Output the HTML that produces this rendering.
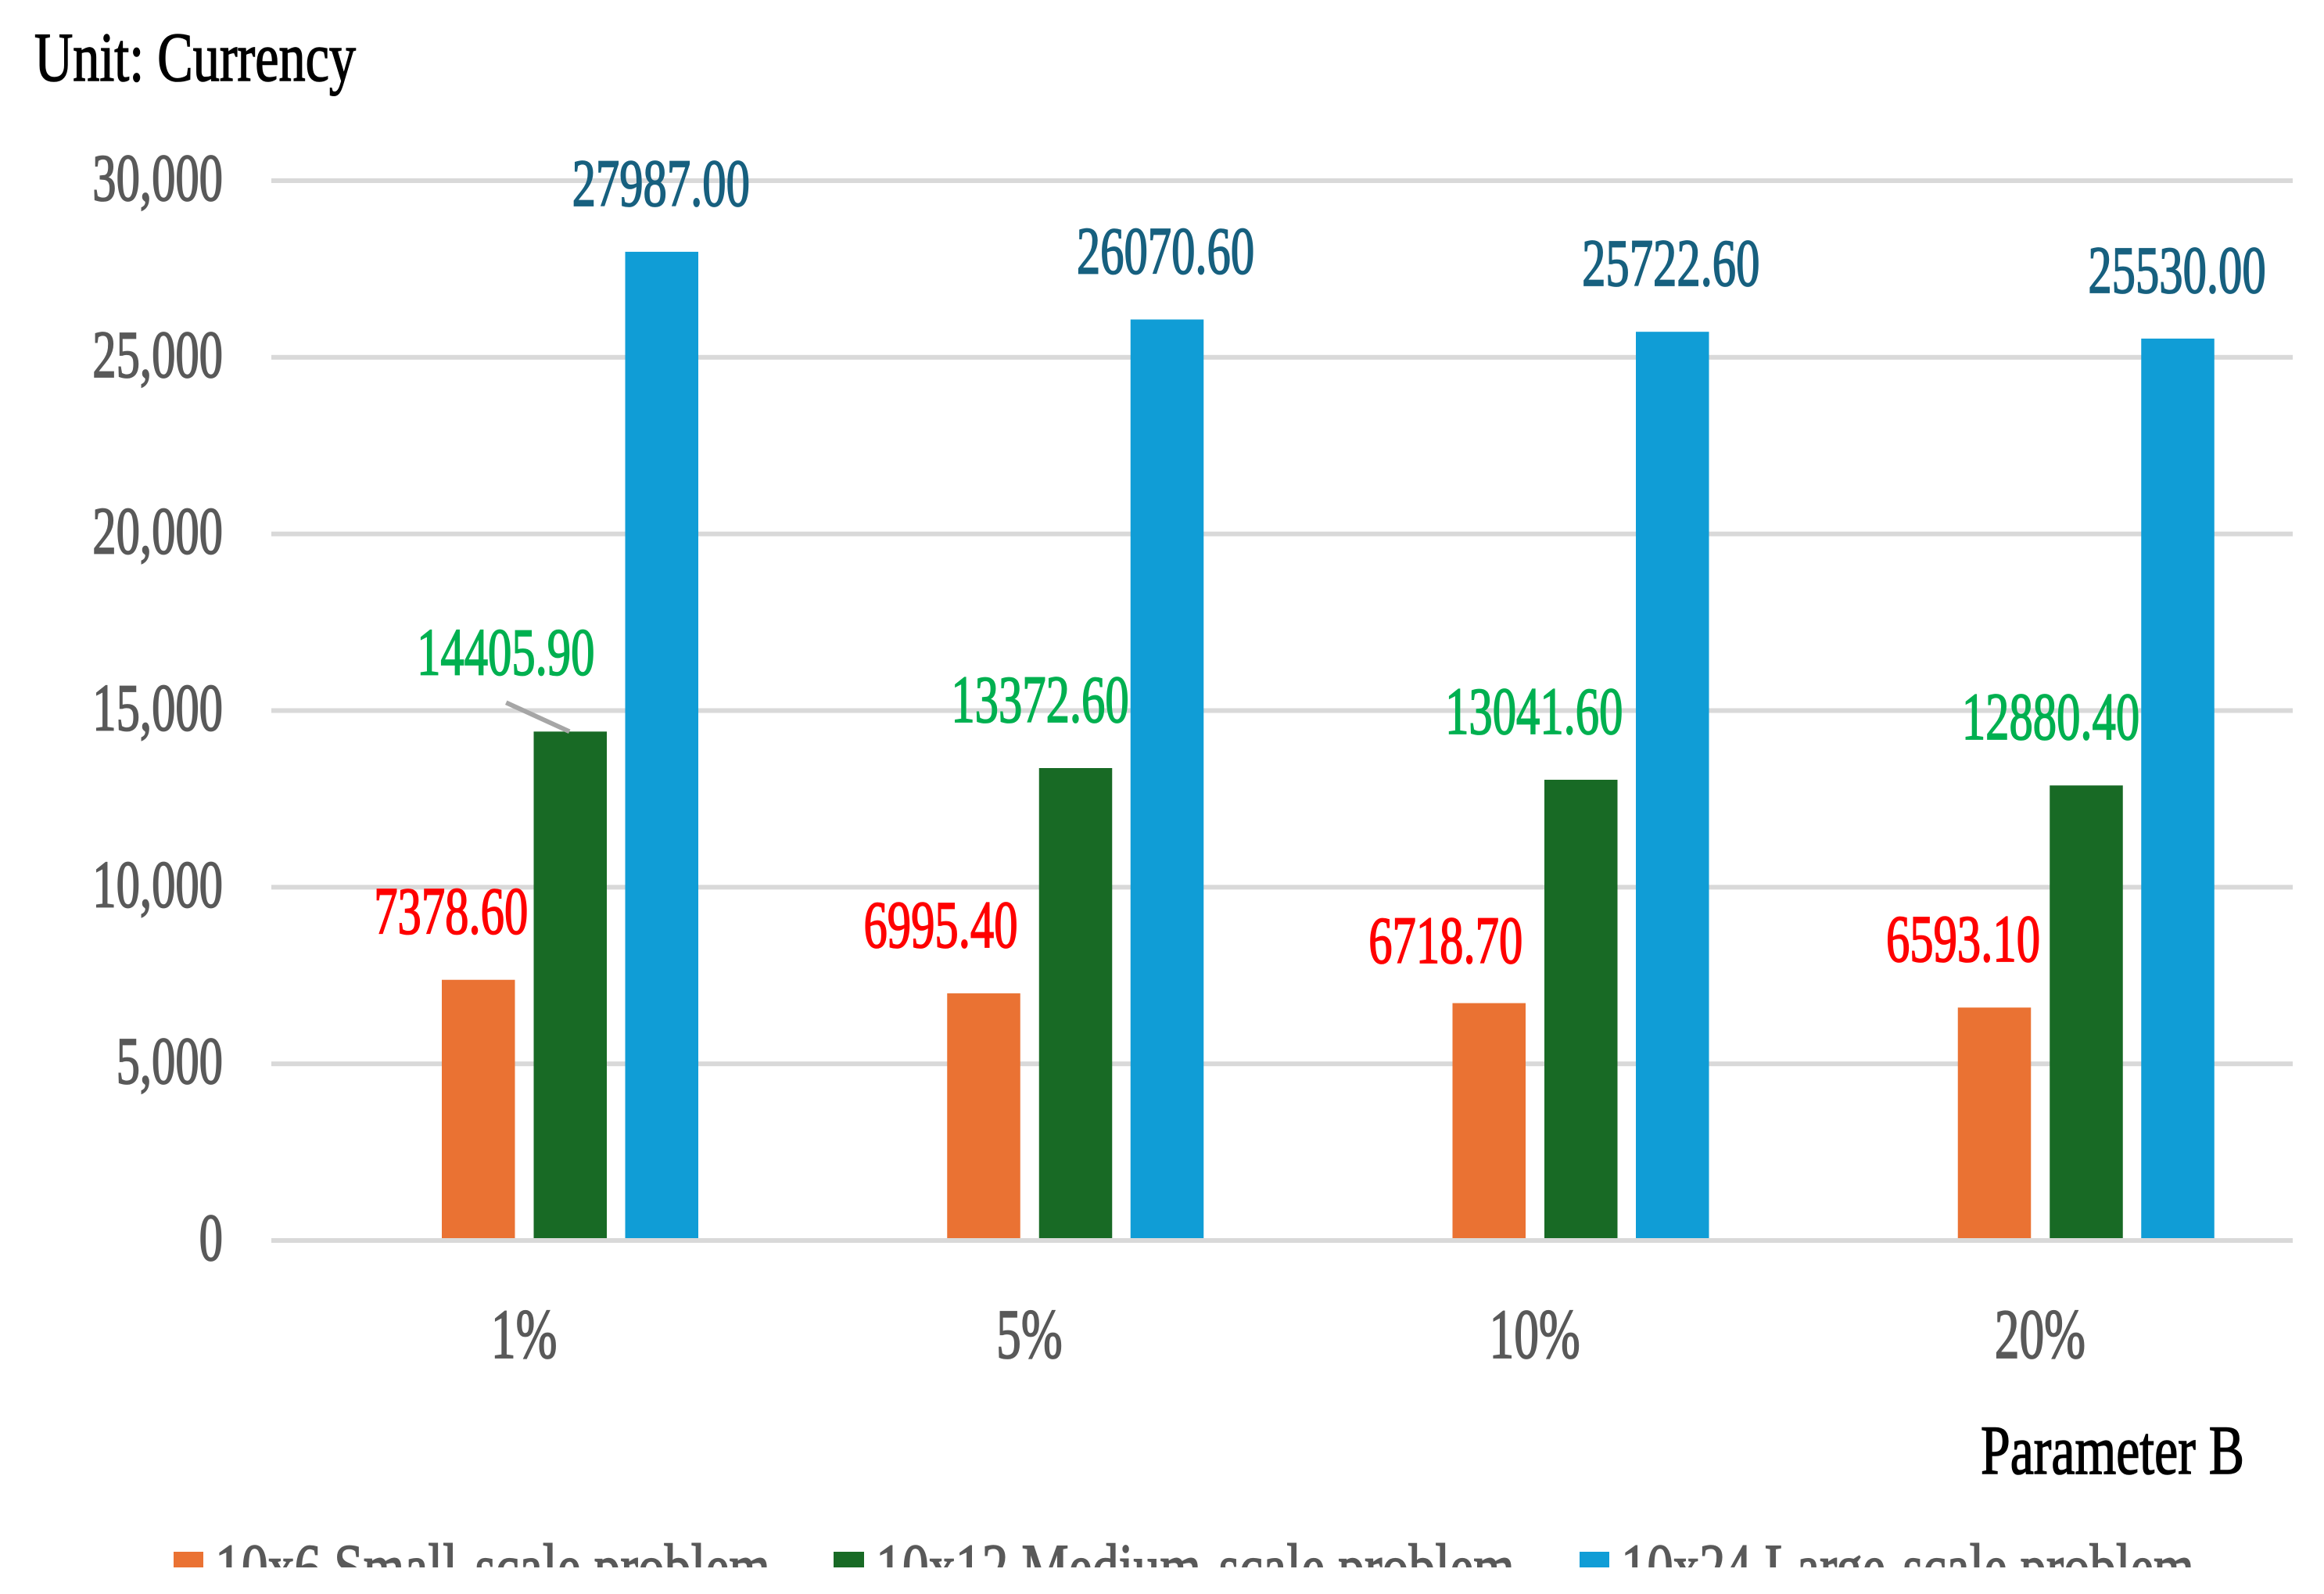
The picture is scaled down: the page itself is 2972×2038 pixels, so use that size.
<!DOCTYPE html>
<html lang="en">
<head>
<meta charset="utf-8">
<title>Unit: Currency by Parameter B</title>
<style>
html,body{margin:0;padding:0;background:#fff;}
body{width:2972px;height:2038px;overflow:hidden;}
svg{display:block;}
text{font-family:"Liberation Serif","DejaVu Serif",serif;}
</style>
</head>
<body>
<svg id="chart" xmlns="http://www.w3.org/2000/svg" width="2972" height="2038" viewBox="0 0 2972 2038">
  <defs>
    <clipPath id="legend-clip"><rect x="0" y="0" width="2972" height="2004"></rect></clipPath>
  </defs>
  <rect x="0" y="0" width="2972" height="2038" fill="#ffffff"></rect>
  <g id="grid"></g>
  <g id="bars"></g>
  <g id="axis"></g>
  <g id="labels"></g>
  <text x="44" y="103" font-size="89" fill="#000000" stroke="#000000" stroke-width="1.6" textLength="411" lengthAdjust="spacingAndGlyphs">Unit: Currency</text>
  <text x="2533" y="1884" font-size="89" fill="#000000" stroke="#000000" stroke-width="1.6" textLength="337" lengthAdjust="spacingAndGlyphs">Parameter B</text>
  <g clip-path="url(#legend-clip)">
    <rect x="222" y="1984" width="38" height="38" fill="#EA7233"></rect>
    <text x="275" y="2033" font-size="86" fill="#595959" stroke="#595959" stroke-width="1.6" textLength="710" lengthAdjust="spacingAndGlyphs">10x6 Small-scale problem</text>
    <rect x="1066" y="1984" width="39" height="38" fill="#186A25"></rect>
    <text x="1120" y="2033" font-size="86" fill="#595959" stroke="#595959" stroke-width="1.6" textLength="817" lengthAdjust="spacingAndGlyphs">10x12 Medium-scale problem</text>
    <rect x="2020" y="1984" width="38" height="38" fill="#109DD6"></rect>
    <text x="2073" y="2033" font-size="86" fill="#595959" stroke="#595959" stroke-width="1.6" textLength="733" lengthAdjust="spacingAndGlyphs">10x24 Large-scale problem</text>
  </g>
</svg>
<script>
const categories = ['1%', '5%', '10%', '20%'];
const smallScale = [7378.60, 6995.40, 6718.70, 6593.10];
const mediumScale = [14405.90, 13372.60, 13041.60, 12880.40];
const largeScale = [27987.00, 26070.60, 25722.60, 25530.00];
const yTicks = [0, 5000, 10000, 15000, 20000, 25000, 30000];
const yTickLabels = ['0', '5,000', '10,000', '15,000', '20,000', '25,000', '30,000'];

const NS = 'http://www.w3.org/2000/svg';
const plotLeft = 347, plotRight = 2932, plotBottom = 1586, plotTop = 231, yMax = 30000;
const slotWidth = (plotRight - plotLeft) / categories.length;
const barWidth = 93.5;
const squeeze = 0.705;

const seriesStyles = [
  { key: 'small', fill: '#EA7233', labelFill: '#FF0000', offset: 218, nudgeX: [-35, -55, -55.5, -40], gapY: [59, 59, 51.5, 59] },
  { key: 'medium', fill: '#186A25', labelFill: '#00B050', offset: 335.5, nudgeX: [-82.5, -45.5, -60, -45.5], gapY: [73, 59, 59, 59] },
  { key: 'large', fill: '#109DD6', labelFill: '#17607F', offset: 452.5, nudgeX: [-1, -2, -2, -1], gapY: [59, 59, 59, 59] }
];
const seriesValues = [smallScale, mediumScale, largeScale];

function yScale(v) { return plotBottom - (v / yMax) * (plotBottom - plotTop); }
function slotLeft(i) { return plotLeft + i * slotWidth; }

function makeRect(parent, x, y, w, h, fill) {
  const r = document.createElementNS(NS, 'rect');
  r.setAttribute('x', x);
  r.setAttribute('y', y);
  r.setAttribute('width', w);
  r.setAttribute('height', h);
  r.setAttribute('fill', fill);
  parent.appendChild(r);
  return r;
}
function makeText(parent, str, x, y, size, fill, anchor) {
  const t = document.createElementNS(NS, 'text');
  t.textContent = str;
  t.setAttribute('transform', 'translate(' + x + ',' + y + ') scale(' + squeeze + ',1)');
  t.setAttribute('font-size', size);
  t.setAttribute('fill', fill);
  t.setAttribute('stroke', fill);
  t.setAttribute('stroke-width', '1.8');
  t.setAttribute('text-anchor', anchor);
  parent.appendChild(t);
  return t;
}

const gridG = document.getElementById('grid');
const barsG = document.getElementById('bars');
const axisG = document.getElementById('axis');
const labelsG = document.getElementById('labels');

yTicks.forEach(function (tick, i) {
  if (tick !== 0) {
    const line = makeRect(gridG, plotLeft, yScale(tick) - 3, plotRight - plotLeft, 6, '#D9D9D9');
    
    
  }
  const label = makeText(axisG, yTickLabels[i], 285, yScale(tick) + 25, 86, '#595959', 'end');
  
  
});

seriesValues.forEach(function (values, s) {
  const style = seriesStyles[s];
  values.forEach(function (v, i) {
    const x = slotLeft(i) + style.offset;
    const top = yScale(v);
    const bar = makeRect(barsG, x, top, barWidth, plotBottom - top, style.fill);
    
    
    const label = makeText(labelsG, v.toFixed(2), x + barWidth / 2 + style.nudgeX[i], top - style.gapY[i], 86, style.labelFill, 'middle');
    
    
  });
});

const baseline = makeRect(axisG, plotLeft, plotBottom - 3, plotRight - plotLeft, 6, '#D9D9D9');



categories.forEach(function (c, i) {
  const label = makeText(axisG, c, slotLeft(i) + slotWidth / 2, 1736, 90, '#595959', 'middle');
  
  
});

const leader = document.createElementNS(NS, 'line');
const leaderEndX = slotLeft(0) + seriesStyles[1].offset + barWidth / 2 - 1;
const leaderEndY = yScale(mediumScale[0]);
leader.setAttribute('x1', leaderEndX - 81);
leader.setAttribute('y1', leaderEndY - 37);
leader.setAttribute('x2', leaderEndX);
leader.setAttribute('y2', leaderEndY);
leader.setAttribute('stroke', '#A6A6A6');
leader.setAttribute('stroke-width', '6');


labelsG.appendChild(leader);
</script>
</body>
</html>
